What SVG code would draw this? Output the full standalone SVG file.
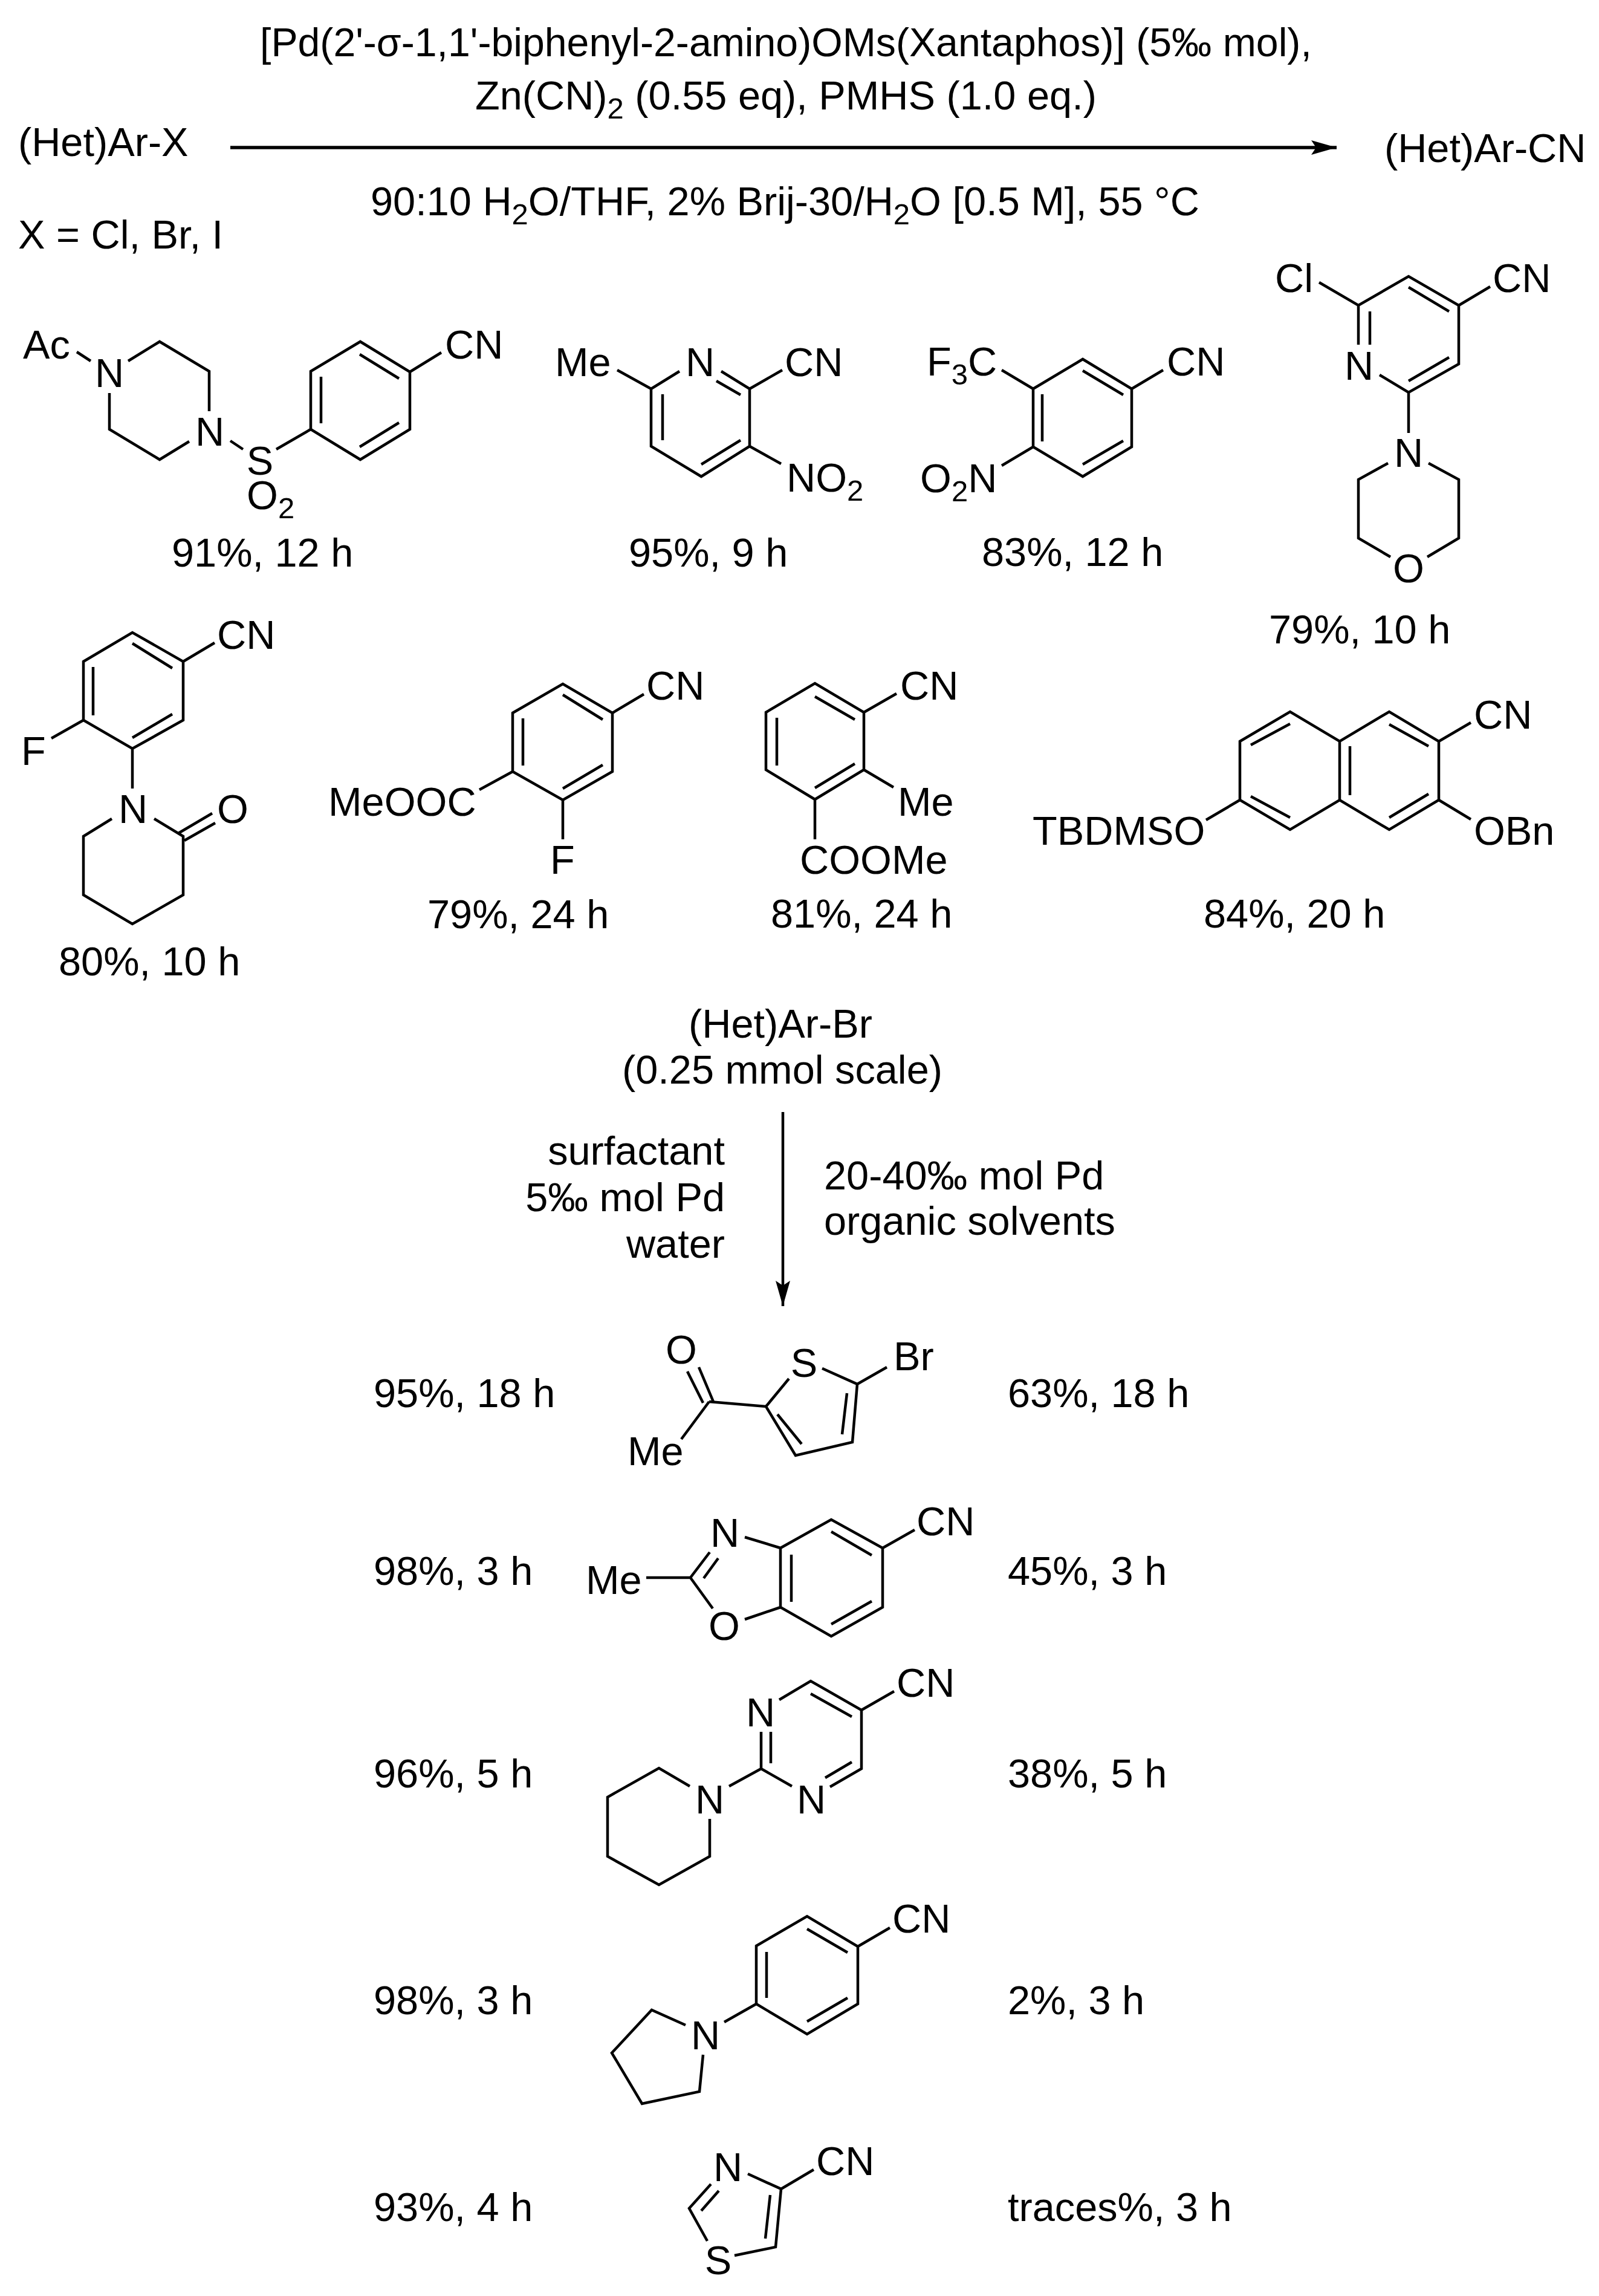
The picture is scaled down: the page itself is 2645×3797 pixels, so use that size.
<svg xmlns="http://www.w3.org/2000/svg" width="2645" height="3797" viewBox="0 0 2645 3797">
<style>
text{font-family:"Liberation Sans",Arial,sans-serif;font-size:66.7px;fill:#000}
.m{text-anchor:middle}.e{text-anchor:end}
.s{font-size:49px}
path{fill:none;stroke:#000;stroke-width:4.5;stroke-linejoin:miter;stroke-linecap:butt}
.a{stroke-width:5.5}
.h{fill:#000;stroke:none}
</style>
<defs>
<marker id="ah" markerUnits="userSpaceOnUse" markerWidth="44" markerHeight="28" refX="42" refY="14" orient="auto"><polygon class="h" points="0,2 42,14 0,26 8,14"/></marker>
</defs>
<rect width="2645" height="3797" fill="#fff"/>
<g id="connectors">
<path class="a" d="M381 244H2211" marker-end="url(#ah)"/>
<path d="M1295 1839V2160" marker-end="url(#ah)"/>
</g>
<g id="scheme-labels">
<text x="430" y="93" style="font-size:66.2px">[Pd(2'-σ-1,1'-biphenyl-2-amino)OMs(Xantaphos)] (5‰ mol),</text>
<text x="786" y="181">Zn(CN)<tspan class="s" dy="15">2</tspan><tspan dy="-15"> (0.55 eq), PMHS (1.0 eq.)</tspan></text>
<text x="30" y="258">(Het)Ar-X</text>
<text x="2290" y="268">(Het)Ar-CN</text>
<text x="613" y="356">90:10 H<tspan class="s" dy="15">2</tspan><tspan dy="-15">O/THF, 2% Brij-30/H</tspan><tspan class="s" dy="15">2</tspan><tspan dy="-15">O [0.5 M], 55 °C</tspan></text>
<text x="30" y="411">X = Cl, Br, I</text>
<text x="1291" y="1716" class="m">(Het)Ar-Br</text>
<text x="1294" y="1792" class="m">(0.25 mmol scale)</text>
<text x="1199" y="1926" class="e">surfactant</text>
<text x="1199" y="2003" class="e">5‰ mol Pd</text>
<text x="1199" y="2080" class="e">water</text>
<text x="1363" y="1967">20-40‰ mol Pd</text>
<text x="1363" y="2042">organic solvents</text>
</g>
<g id="mol-piperazine">
<path d="M127 582L150 597M181 650V710L264 760L313 730M212 597L264 565L346 614V680M381 729L402 743M457 743L514 710M514 710V614L596 565L678 615V710L596 760Z M531 623V700M595 586L660 626M595 739L660 699M678 615L730 583"/>
<text x="38" y="593">Ac</text><text x="181" y="640" class="m">N</text><text x="347" y="737" class="m">N</text><text x="430" y="785" class="m">S</text><text x="736" y="593">CN</text>
<text x="408" y="842">O<tspan class="s" dy="15">2</tspan></text>
<text x="284" y="937">91%, 12 h</text>
</g>
<g id="mol-nitropyridine">
<path d="M1021 612L1077 643M1124 614L1077 643V738L1160 788L1240 738V643L1193 614M1185 630L1225 653M1096 652V728M1160 768L1225 728M1240 643L1294 612M1240 738L1292 767"/>
<text x="918" y="622">Me</text><text x="1158" y="622" class="m">N</text><text x="1298" y="622">CN</text>
<text x="1301" y="813">NO<tspan class="s" dy="15">2</tspan></text>
<text x="1040" y="937">95%, 9 h</text>
</g>
<g id="mol-cf3">
<path d="M1709 643L1791 594L1872 643V739L1791 788L1709 739Z M1724 652V730M1791 613L1858 653M1791 768L1858 729M1657 612L1709 643M1872 643L1924 612M1657 770L1709 739"/>
<text x="1533" y="621">F<tspan class="s" dy="15">3</tspan><tspan dy="-15">C</tspan></text>
<text x="1930" y="621">CN</text>
<text x="1522" y="814">O<tspan class="s" dy="15">2</tspan><tspan dy="-15">N</tspan></text>
<text x="1624" y="936">83%, 12 h</text>
</g>
<g id="mol-morpholine">
<path d="M2182 467L2247 505L2330 457L2413 505V602L2330 649L2282 620M2247 505V570M2266 515V570M2330 475L2397 515M2330 630L2397 591M2413 505L2465 474M2330 649V716M2296 766L2247 793V890L2300 921M2363 766L2413 793V890L2361 921"/>
<text x="2109" y="483">Cl</text><text x="2469" y="483">CN</text><text x="2248" y="628" class="m">N</text><text x="2330" y="772" class="m">N</text><text x="2330" y="963" class="m">O</text>
<text x="2099" y="1064">79%, 10 h</text>
</g>
<g id="mol-lactam">
<path d="M138 1094L219 1046L303 1094V1191L219 1238L138 1191Z M154 1103V1183M219 1064L285 1105M219 1220L285 1181M303 1094L355 1063M138 1191L85 1221M219 1238V1304M185 1354L138 1383V1480L219 1528L303 1480V1383L255 1354M295 1378L351 1345M305 1390L356 1361"/>
<text x="359" y="1073">CN</text><text x="35" y="1265">F</text><text x="220" y="1361" class="m">N</text><text x="385" y="1361" class="m">O</text>
<text x="97" y="1613">80%, 10 h</text>
</g>
<g id="mol-ester-f">
<path d="M848 1179L931 1131L1013 1179V1276L931 1323L848 1276Z M865 1188V1266M931 1149L997 1190M931 1304L997 1265M1013 1179L1065 1148M793 1306L848 1276M931 1323V1388"/>
<text x="1069" y="1157">CN</text><text x="543" y="1349">MeOOC</text><text x="910" y="1445">F</text>
<text x="707" y="1535">79%, 24 h</text>
</g>
<g id="mol-ester-me">
<path d="M1267 1178L1348 1130L1429 1178V1273L1348 1322L1267 1273Z M1285 1187V1266M1348 1152L1414 1190M1348 1303L1414 1263M1429 1178L1483 1147M1429 1273L1478 1302M1348 1322V1388"/>
<text x="1489" y="1157">CN</text><text x="1485" y="1349">Me</text><text x="1323" y="1445">COOMe</text>
<text x="1275" y="1534">81%, 24 h</text>
</g>
<g id="mol-naphthalene">
<path d="M2051 1226L2134 1177L2216 1226L2298 1177L2380 1226V1323L2298 1372L2216 1323L2134 1372L2051 1323Z M2216 1226V1323M2069 1232L2134 1197M2069 1317L2134 1352M2233 1234V1315M2298 1198L2363 1234M2298 1352L2363 1313M2380 1226L2433 1195M2380 1323L2433 1355M1995 1356L2051 1323"/>
<text x="2438" y="1205">CN</text><text x="2438" y="1397">OBn</text><text x="1708" y="1397">TBDMSO</text>
<text x="1991" y="1534">84%, 20 h</text>
</g>
<g id="mol-thiophene">
<path d="M1137 2268L1163 2320M1156 2261L1180 2318M1173 2318L1267 2326L1305 2280M1173 2318L1127 2380M1360 2263L1418 2289L1410 2385L1316 2407L1267 2326M1286 2339L1326 2388M1401 2304L1393 2372M1418 2289L1467 2261"/>
<text x="1127" y="2255" class="m">O</text><text x="1330" y="2277" class="m">S</text><text x="1478" y="2266">Br</text><text x="1038" y="2423">Me</text>
<text x="618" y="2327">95%, 18 h</text><text x="1667" y="2327">63%, 18 h</text>
</g>
<g id="mol-benzoxazole">
<path d="M1069 2609H1142L1174 2567M1164 2610L1188 2577M1142 2609L1179 2660M1232 2542L1291 2560M1232 2678L1291 2658M1291 2560L1375 2513L1460 2560V2658L1375 2706L1291 2658Z M1309 2571V2649M1375 2533L1442 2572M1375 2686L1442 2648M1460 2560L1513 2530"/>
<text x="969" y="2636">Me</text><text x="1199" y="2558" class="m">N</text><text x="1198" y="2712" class="m">O</text><text x="1516" y="2539">CN</text>
<text x="618" y="2621">98%, 3 h</text><text x="1667" y="2621">45%, 3 h</text>
</g>
<g id="mol-pyrimidine">
<path d="M1289 2811L1341 2780L1425 2828V2925L1373 2955M1341 2801L1409 2839M1409 2914L1365 2940M1310 2954L1259 2925V2864M1275 2864V2916M1259 2925L1206 2954M1141 2954L1090 2924L1005 2972V3070L1090 3117L1174 3070V3008M1425 2828L1479 2797"/>
<text x="1258" y="2855" class="m">N</text><text x="1342" y="2999" class="m">N</text><text x="1174" y="2999" class="m">N</text><text x="1483" y="2806">CN</text>
<text x="618" y="2956">96%, 5 h</text><text x="1667" y="2956">38%, 5 h</text>
</g>
<g id="mol-pyrrolidine">
<path d="M1251 3218L1335 3169L1419 3219V3314L1335 3364L1251 3314Z M1268 3228V3304M1335 3190L1402 3229M1335 3343L1402 3304M1419 3219L1472 3188M1198 3344L1251 3314M1134 3349L1078 3324L1012 3395L1062 3479L1157 3459L1163 3398"/>
<text x="1167" y="3389" class="m">N</text><text x="1476" y="3196">CN</text>
<text x="618" y="3331">98%, 3 h</text><text x="1667" y="3331">2%, 3 h</text>
</g>
<g id="mol-thiazole">
<path d="M1237 3595L1292 3620L1283 3716L1215 3730M1274 3630L1266 3702M1170 3706L1140 3652L1176 3612M1160 3656L1189 3623M1292 3620L1346 3588"/>
<text x="1204" y="3607" class="m">N</text><text x="1188" y="3761" class="m">S</text><text x="1350" y="3597">CN</text>
<text x="618" y="3673">93%, 4 h</text><text x="1667" y="3673">traces%, 3 h</text>
</g>
</svg>
